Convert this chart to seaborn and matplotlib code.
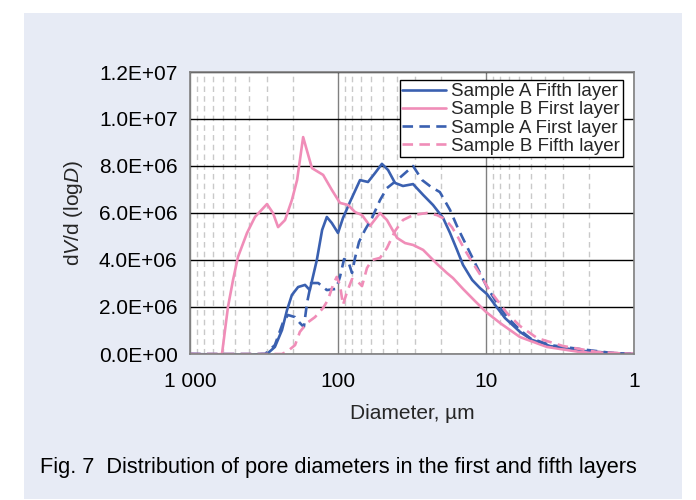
import numpy as np
import pandas as pd
import matplotlib
matplotlib.use("Agg")
import matplotlib.pyplot as plt
import seaborn as sns
from matplotlib.patches import Rectangle
from matplotlib.ticker import LogLocator, NullFormatter, FixedLocator, FixedFormatter, FormatStrFormatter

sns.set_style("white")
plt.rcParams["font.family"] = ["Liberation Sans", "DejaVu Sans"]
plt.rcParams["mathtext.fontset"] = "custom"
plt.rcParams["mathtext.rm"] = "Liberation Sans"
plt.rcParams["mathtext.it"] = "Liberation Sans:italic"

# Pore diameter (µm) and dV/d(logD) for each sample/layer
a5_d = [1000, 393, 327, 302, 267, 239, 221, 205, 186, 167, 155, 139, 128, 119, 110, 100,
        92.5, 83, 71, 62.7, 56.2, 50.5, 45.9, 41.2, 36.4, 31.1, 26.6, 22.8, 19.5, 17.5,
        15.7, 14.3, 12.4, 11.0, 9.85, 8.69, 7.44, 5.89, 4.89, 3.70, 2.21, 1.39, 1]
a5_v = [0, -0.05e6, 0, 0, 0.30e6, 1.02e6, 1.87e6, 2.51e6, 2.85e6, 2.94e6, 2.72e6, 4.0e6,
        5.28e6, 5.83e6, 5.57e6, 5.15e6, 5.79e6, 6.47e6, 7.40e6, 7.32e6, 7.70e6, 8.09e6,
        7.83e6, 7.28e6, 7.15e6, 7.23e6, 6.77e6, 6.34e6, 5.79e6, 5.15e6, 4.43e6, 3.79e6,
        3.15e6, 2.81e6, 2.55e6, 2.09e6, 1.53e6, 0.94e6, 0.60e6, 0.34e6, 0.13e6, 0.04e6, 0]

b1_d = [1000, 767, 608, 554, 512, 474, 412, 364, 302, 275, 254, 228, 205, 189, 172, 159,
        150, 126, 110, 97, 85.5, 76.7, 68.8, 60.8, 52.0, 46.7, 39.9, 35.2, 31.1, 26.6,
        21.4, 18.4, 16.7, 14.3, 11.9, 10, 8.04, 5.89, 3.87, 2.32, 1.39, 1]
b1_v = [0, -0.04e6, 0, 2.0e6, 3.15e6, 4.13e6, 5.15e6, 5.83e6, 6.38e6, 6.0e6, 5.40e6,
        5.70e6, 6.55e6, 7.40e6, 9.23e6, 8.47e6, 7.91e6, 7.62e6, 6.98e6, 6.43e6, 6.34e6,
        6.04e6, 5.91e6, 5.45e6, 6.0e6, 5.70e6, 4.94e6, 4.72e6, 4.64e6, 4.43e6, 3.83e6,
        3.45e6, 3.23e6, 2.77e6, 2.26e6, 1.79e6, 1.32e6, 0.72e6, 0.30e6, 0.085e6, 0.04e6, 0]

a1_d = [1000, 311, 267, 236, 218, 195, 181, 170, 162, 152, 136, 119, 103, 97, 91, 85.5,
        80.4, 76.7, 72.1, 65.7, 58.9, 52, 46.7, 39.9, 35.2, 31.1, 27, 23.5, 20.5, 17.5,
        15.5, 13.4, 11.5, 9.85, 8.43, 7.21, 5.89, 5.05, 3.70, 2.32, 1.39, 1]
a1_v = [0, 0, 0.38e6, 1.32e6, 1.66e6, 1.57e6, 1.32e6, 1.15e6, 2.17e6, 3.02e6, 3.02e6,
        2.72e6, 2.77e6, 3.28e6, 4.04e6, 3.96e6, 3.45e6, 4.09e6, 4.77e6, 5.28e6, 5.79e6,
        6.55e6, 7.06e6, 7.40e6, 7.70e6, 8.0e6, 7.40e6, 7.11e6, 6.89e6, 6.13e6, 5.36e6,
        4.55e6, 3.70e6, 2.85e6, 2.17e6, 1.57e6, 1.02e6, 0.68e6, 0.38e6, 0.21e6, 0.04e6, 0]

b5_d = [1000, 239, 218, 195, 181, 162, 143, 126, 117, 108, 102, 97, 92.5, 86.9, 80.4,
        74.5, 68.8, 63.7, 58.9, 52, 46.7, 41.2, 36.4, 31.1, 25.1, 21.4, 18.9, 17.0, 15.5,
        13.9, 12.4, 11.0, 9.69, 8.43, 7.21, 5.89, 4.52, 3.02, 1.78, 1]
b5_v = [0, 0, 0.13e6, 0.38e6, 0.94e6, 1.32e6, 1.57e6, 1.96e6, 2.30e6, 2.94e6, 3.28e6,
        2.94e6, 2.09e6, 2.64e6, 3.19e6, 3.11e6, 2.89e6, 3.66e6, 4.0e6, 4.09e6, 4.51e6,
        5.23e6, 5.70e6, 5.91e6, 6.0e6, 5.91e6, 5.74e6, 5.40e6, 4.98e6, 4.43e6, 3.91e6,
        3.40e6, 2.81e6, 2.30e6, 1.74e6, 1.19e6, 0.68e6, 0.34e6, 0.085e6, 0]

labels = ["Sample A Fifth layer", "Sample B First layer",
          "Sample A First layer", "Sample B Fifth layer"]
x_ticks = [1000, 100, 10, 1]
x_tick_labels = ["1 000", "100", "10", "1"]
y_ticks = [0, 2e6, 4e6, 6e6, 8e6, 10e6, 12e6]

blue = "#3A60B0"
pink = "#F08DB8"
dash = (0, (4, 2.4))
series = [
    (a5_d, a5_v, labels[0], blue, "-"),
    (b1_d, b1_v, labels[1], pink, "-"),
    (a1_d, a1_v, labels[2], blue, dash),
    (b5_d, b5_v, labels[3], pink, dash),
]

fig = plt.figure(figsize=(6.96, 5.0), dpi=100)
fig.patch.set_facecolor("white")
fig.add_artist(Rectangle((24 / 696, 1 / 500), 658 / 696, 486 / 500,
                         transform=fig.transFigure, facecolor="#E7EBF5",
                         edgecolor="none", zorder=-10))

ax = fig.add_axes([190 / 696, 1 - 354 / 500, 444 / 696, 282 / 500])
ax.set_zorder(1)
ax.set_facecolor("white")

for d, v, lab, col, ls in series:
    df = pd.DataFrame({"Diameter": d, "dV": v})
    sns.lineplot(data=df, x="Diameter", y="dV", ax=ax, color=col, linestyle=ls,
                 linewidth=1.9, sort=False, label=lab, estimator=None,
                 solid_joinstyle="round", dash_joinstyle="round")

ax.set_xscale("log")
ax.set_xlim(1000, 1)
ax.set_ylim(0, 12e6)

ax.xaxis.set_major_locator(FixedLocator(x_ticks))
ax.xaxis.set_major_formatter(FixedFormatter(x_tick_labels))
ax.xaxis.set_minor_locator(LogLocator(base=10, subs=np.arange(2, 10)))
ax.xaxis.set_minor_formatter(NullFormatter())
ax.set_yticks(y_ticks)
ax.yaxis.set_major_formatter(FormatStrFormatter("%.1E"))

ax.grid(which="minor", axis="x", color="#C9C9C9", linestyle=(0, (4, 3)), linewidth=1.0)
ax.grid(which="major", axis="x", color="#808080", linestyle="-", linewidth=1.0)
ax.grid(which="major", axis="y", color="black", linestyle="-", linewidth=1.0)
ax.set_axisbelow(True)

ax.tick_params(axis="both", which="both", length=0, labelsize=15, colors="black")
ax.tick_params(axis="y", pad=9)
ax.tick_params(axis="x", pad=13)
for s in ax.spines.values():
    s.set_color("#808080")
    s.set_linewidth(1.2)

ax.set_xlabel("Diameter, µm", fontsize=15, labelpad=9)
ax.set_ylabel(r"d$\mathit{V}$/d (log$\mathit{D}$)", fontsize=15, labelpad=10)

leg = ax.legend(loc="upper right", bbox_to_anchor=(0.975, 0.97), borderaxespad=0,
                fontsize=13.5, frameon=True, fancybox=False, framealpha=1,
                edgecolor="black", handlelength=2.3, handletextpad=0.3,
                labelspacing=0.05, borderpad=0.15)
leg.get_frame().set_linewidth(1.0)

fig.text(40 / 696, 1 - 467 / 500,
         "Fig. 7  Distribution of pore diameters in the first and fifth layers",
         fontsize=15.7, va="center", ha="left", color="black")

fig.savefig("out.png", dpi=100)
